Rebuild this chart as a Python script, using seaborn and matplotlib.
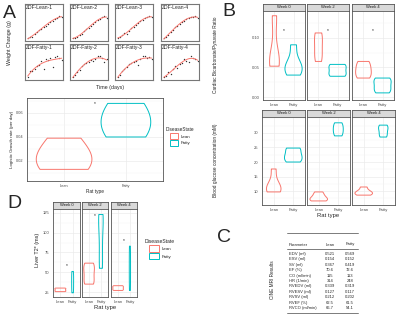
import matplotlib
matplotlib.use("Agg")
import matplotlib.pyplot as plt
import seaborn as sns
import pandas as pd
from matplotlib.patches import Patch
from matplotlib.lines import Line2D
from matplotlib.ticker import MultipleLocator, FormatStrFormatter, FixedLocator

# ---- data -----------------------------------------------------------------
# Panel A top: weight change (g) per rat over time
days = [0, 3, 6, 9, 12, 15, 18, 21, 24, 27, 30, 33, 36, 39, 42, 45]
rat_names = ["ZDF-Lean-1", "ZDF-Lean-2", "ZDF-Lean-3", "ZDF-Lean-4",
             "ZDF-Fatty-1", "ZDF-Fatty-2", "ZDF-Fatty-3", "ZDF-Fatty-4"]
lean_1 = [5, 10, 12, 25, 38, 50, 55, 62, 70, 80, 88, 95, 105, 110, 118, 112]
lean_2 = [0, 3, 8, 18, 22, 35, 45, 52, 60, 72, 80, 88, 95, 102, 108, 100]
lean_3 = [0, 8, 15, 25, 22, 38, 50, 58, 68, 75, 85, 92, 100, 105, 110, 104]
lean_4 = [0, 5, 15, 30, 42, 55, 62, 70, 80, 85, 92, 98, 102, 105, 108, 100]
fatty_1 = [0, 30, 28, 40, 55, 60, 75, 40, 85, 80, 90, 50, 95, 100, 92, 80]
fatty_2 = [0, 10, 20, 30, 45, 50, 55, 60, 65, 62, 70, 82, 80, 75, 60, 70]
fatty_3 = [0, 10, 25, 35, 45, 55, 60, 65, 70, 50, 75, 88, 90, 80, 85, 75]
fatty_4 = [0, 5, 15, 10, 25, 35, 30, 40, 45, 55, 50, 48, 65, 60, 55, 50]
weights = [lean_1, lean_2, lean_3, lean_4, fatty_1, fatty_2, fatty_3, fatty_4]

# Panel A bottom: logistic growth rate (per day)
growth_lean = [0.013, 0.015, 0.021, 0.029, 0.039]
growth_fatty = [0.040, 0.041, 0.052, 0.053, 0.066, 0.068]

weeks = ["Week 0", "Week 2", "Week 4"]
rat_types = ["Lean", "Fatty"]

# Panel B top: cardiac bicarbonate/pyruvate ratio
bicarb_lean = {"Week 0": [0.052, 0.054, 0.057, 0.062, 0.078, 0.132, 0.137],
               "Week 2": [0.060, 0.070, 0.085, 0.100, 0.108],
               "Week 4": [0.032, 0.040, 0.050, 0.060]}
bicarb_fatty = {"Week 0": [0.037, 0.045, 0.050, 0.060, 0.088],
                "Week 2": [0.035, 0.040, 0.050, 0.055],
                "Week 4": [0.007, 0.012, 0.020, 0.028, 0.032]}

# Panel B bottom: blood glucose (mM)
glucose_lean = {"Week 0": [9.7, 10.2, 11.0, 13.0, 17.6],
                "Week 2": [6.6, 7.0, 7.5, 8.5, 9.7],
                "Week 4": [8.6, 9.0, 9.5, 10.0, 11.4]}
glucose_fatty = {"Week 0": [20.0, 20.5, 22.0, 22.5, 24.5, 24.8],
                 "Week 2": [29.0, 30.5, 32.0, 33.5],
                 "Week 4": [28.6, 29.5, 31.0, 32.0, 32.7]}

# Panel D: liver T2* (ms)
t2_lean = {"Week 0": [25.5, 26.0, 27.0, 28.5, 29.5, 30.0],
           "Week 2": [35.0, 37.0, 45.0, 52.0, 58.0, 61.5],
           "Week 4": [27.0, 28.0, 30.0, 32.0, 33.0]}
t2_fatty = {"Week 0": [24.0, 30.0, 38.0, 45.0, 51.0],
            "Week 2": [55.0, 58.0, 80.0, 100.0, 118.0, 122.0, 123.0],
            "Week 4": [27.0, 40.0, 55.0, 70.0, 83.0]}

# significance markers (y positions)
star_bicarb = [0.112, 0.112, 0.112]
star_t2 = [58, 122, 90]
star_growth = 0.068

# axis ticks
bicarb_ticks = [0.00, 0.05, 0.10]
glucose_ticks = [10, 15, 20, 25, 30]
t2_ticks = [25, 50, 75, 100, 125]
growth_ticks = [0.02, 0.04, 0.06]

# Panel C: CINE MRI table
mri_params = ["EDV (ml)", "ESV (ml)", "SV (ml)", "EF (%)", "CO (ml/min)", "HR (1/min)",
              "RVEDV (ml)", "RVESV (ml)", "RVSV (ml)", "RVEF (%)", "RVCO (ml/min)"]
mri_lean = ["0.521", "0.154", "0.367", "70.6", "115", "314",
            "0.339", "0.127", "0.212", "62.5", "66.7"]
mri_fatty = ["0.569", "0.152", "0.419", "72.6", "113", "248",
             "0.319", "0.117", "0.202", "61.5", "54.1"]

# ---- styling ----------------------------------------------------------------
LEAN = "#F8766D"
FATTY = "#00BFC4"
pal = {"Lean": LEAN, "Fatty": FATTY}
W, H = 400, 318

sns.set_theme(style="white")
plt.rcParams["font.family"] = ["Liberation Sans", "DejaVu Sans"]

fig = plt.figure(figsize=(W / 100, H / 100), dpi=100)
fig.patch.set_facecolor("white")


def box(x0, y0, x1, y1):
    return [x0 / W, 1 - y1 / H, (x1 - x0) / W, (y1 - y0) / H]


def ftext(x, y, s, **kw):
    return fig.text(x / W, 1 - y / H, s, **kw)


def hline(x0, x1, y, lw=0.6, color="#666666"):
    fig.add_artist(Line2D([x0 / W, x1 / W], [1 - y / H, 1 - y / H], color=color, lw=lw))


def long_df(lean, fatty):
    rows = []
    for wk in weeks:
        rows += [(wk, "Lean", v) for v in lean[wk]]
        rows += [(wk, "Fatty", v) for v in fatty[wk]]
    return pd.DataFrame(rows, columns=["Week", "RatType", "value"])


def style_bw(ax, ticks, fmt, tsize):
    ax.set_xlim(-0.6, 1.6)
    step = ticks[1] - ticks[0]
    ax.yaxis.set_major_locator(FixedLocator(ticks))
    ax.yaxis.set_minor_locator(MultipleLocator(step / 2))
    ax.yaxis.set_major_formatter(FormatStrFormatter(fmt))
    ax.set_axisbelow(True)
    ax.grid(True, which="major", color="#EBEBEB", lw=0.5)
    ax.grid(True, which="minor", axis="y", color="#F4F4F4", lw=0.3)
    ax.tick_params(which="major", length=1.5, width=0.4, color="#333333",
                   labelsize=tsize, labelcolor="#4D4D4D", pad=1)
    ax.tick_params(which="minor", length=0)
    for sp in ax.spines.values():
        sp.set_color("#555555")
        sp.set_linewidth(0.6)
    ax.set_xlabel("")
    ax.set_ylabel("")


def violins(ax, df, bw=0.9):
    sns.violinplot(data=df, x="RatType", y="value", hue="RatType", order=rat_types,
                   hue_order=rat_types, palette=pal, fill=False, inner=None, cut=0,
                   width=0.9, linewidth=0.7, dodge=False, legend=False,
                   common_norm=True, bw_adjust=bw, ax=ax)


# ---- Panel A (top): weight trajectories ---------------------------------
col_x = [(25, 63), (70, 108), (115, 153), (161, 199)]
row_y = [(4, 41), (44, 80)]
for i, (name, vals) in enumerate(zip(rat_names, weights)):
    x0, x1 = col_x[i % 4]
    y0, y1 = row_y[i // 4]
    ax = fig.add_axes(box(x0, y0, x1, y1))
    sns.regplot(x=days, y=vals, order=3, ci=None, ax=ax,
                scatter_kws=dict(s=1.0, color="black", linewidths=0),
                line_kws=dict(color=LEAN, lw=0.7))
    lo, hi = min(vals), max(vals)
    tot = (hi - lo) / 0.6
    ax.set_ylim(lo - 0.07 * tot, hi + 0.33 * tot)
    ax.set_xlim(days[0] - 0.08 * 45, days[-1] + 0.04 * 45)
    ax.set_xticks([])
    ax.set_yticks([])
    ax.set_xlabel("")
    ax.set_ylabel("")
    ax.text(0.02, 0.97, name, transform=ax.transAxes, fontsize=3.6, va="top", ha="left")
    for sp in ax.spines.values():
        sp.set_color("#777777")
        sp.set_linewidth(0.8)

ftext(10, 43, "Weight Change (g)", rotation=90, ha="center", va="center", fontsize=3.8)
ftext(110, 88, "Time (days)", ha="center", va="center", fontsize=3.8)

# ---- Panel A (bottom): growth rate violins -------------------------------
growth_df = pd.DataFrame({
    "RatType": ["Lean"] * len(growth_lean) + ["Fatty"] * len(growth_fatty),
    "value": growth_lean + growth_fatty,
})
ax = fig.add_axes(box(27, 98, 163, 181))
violins(ax, growth_df, bw=1.6)
style_bw(ax, growth_ticks, "%.2f", 2.8)
ax.set_ylim(0.0033, 0.0725)
ax.text(0.5, star_growth, "*", ha="center", va="center", fontsize=3.5)
ftext(95, 191, "Rat type", ha="center", va="center", fontsize=3.4)
ftext(12, 139, "Logistic Growth rate (per day)", rotation=90, ha="center", va="center", fontsize=3.2)

handles = [Patch(facecolor="white", edgecolor=LEAN, lw=0.7, label="Lean"),
           Patch(facecolor="white", edgecolor=FATTY, lw=0.7, label="Fatty")]
fig.legend(handles=handles, title="DiseaseState", loc="upper left",
           bbox_to_anchor=(166 / W, 1 - 127 / H), frameon=False, fontsize=3.2,
           title_fontsize=3.4, handlelength=1.8, handleheight=1.5,
           borderaxespad=0, borderpad=0, labelspacing=0.3, handletextpad=0.5)


# ---- faceted panels -------------------------------------------------------
def faceted(df, xspans, strip_y, plot_y, ylim, ticks, fmt, stars=None, bw=0.9, tsize=3.0):
    for j, wk in enumerate(weeks):
        x0, x1 = xspans[j]
        sax = fig.add_axes(box(x0, strip_y[0], x1, strip_y[1]))
        sax.set_facecolor("#D9D9D9")
        sax.set_xticks([])
        sax.set_yticks([])
        sax.text(0.5, 0.5, wk, ha="center", va="center", fontsize=3.0, color="#1A1A1A",
                 transform=sax.transAxes)
        for sp in sax.spines.values():
            sp.set_color("#555555")
            sp.set_linewidth(0.6)
        ax = fig.add_axes(box(x0, plot_y[0], x1, plot_y[1]))
        violins(ax, df[df["Week"] == wk], bw=bw)
        style_bw(ax, ticks, fmt, tsize)
        ax.set_ylim(*ylim)
        if j > 0:
            ax.tick_params(axis="y", labelleft=False, length=0)
        if stars is not None:
            ax.text(0.5, stars[j], "*", ha="center", va="center", fontsize=3.5)


bicarb_df = long_df(bicarb_lean, bicarb_fatty)
faceted(bicarb_df, [(263, 305), (307, 349), (352, 394)], (4, 11), (11, 100),
        (-0.005, 0.145), bicarb_ticks, "%.2f", stars=star_bicarb)
ftext(216, 55, "Cardiac Bicarbonate/Pyruvate Ratio", rotation=90, ha="center",
      va="center", fontsize=3.4, color="#222222")

glucose_df = long_df(glucose_lean, glucose_fatty)
faceted(glucose_df, [(262, 305), (307, 350), (352, 395)], (110, 117), (117, 205),
        (5.2, 35.5), glucose_ticks, "%d")
ftext(216, 160, "Blood glucose concentration (mM)", rotation=90, ha="center",
      va="center", fontsize=3.4, color="#222222")
ftext(328, 216, "Rat type", ha="center", va="center", fontsize=4.2)

t2_df = long_df(t2_lean, t2_fatty)
faceted(t2_df, [(53, 80), (82, 108), (111, 137)], (202, 209), (209, 297),
        (18.7, 130), t2_ticks, "%d", stars=star_t2)
ftext(37, 250, "Liver T2* (ms)", rotation=90, ha="center", va="center", fontsize=4.0)
ftext(105, 308, "Rat type", ha="center", va="center", fontsize=4.2)
fig.legend(handles=handles, title="DiseaseState", loc="upper left",
           bbox_to_anchor=(145 / W, 1 - 239 / H), frameon=False, fontsize=3.2,
           title_fontsize=3.6, handlelength=2.2, handleheight=1.8,
           borderaxespad=0, borderpad=0, labelspacing=0.3, handletextpad=0.6)

# ---- Panel C: table ------------------------------------------------------
hline(287, 358, 232.5)
hline(287, 358, 249)
hline(287, 358, 313)
ftext(289, 244.5, "Parameter", ha="left", va="center", fontsize=3.0)
ftext(330, 244.5, "Lean", ha="center", va="center", fontsize=3.0)
ftext(350, 244.5, "Fatty", ha="center", va="center", fontsize=3.0)
for k, (p, a, b) in enumerate(zip(mri_params, mri_lean, mri_fatty)):
    y = 254 + k * 5.4
    ftext(289, y, p, ha="left", va="center", fontsize=3.0)
    ftext(330, y, a, ha="center", va="center", fontsize=3.0)
    ftext(350, y, b, ha="center", va="center", fontsize=3.0)
ftext(273, 280, "CINE MRI Results", rotation=90, ha="center", va="center", fontsize=3.4)

# ---- panel letters ---------------------------------------------------------
for letter, (x, y) in {"A": (9, 14), "B": (229, 12), "C": (224, 237), "D": (14, 203)}.items():
    ftext(x, y, letter, ha="center", va="center", fontsize=14)

fig.savefig("out.png", dpi=100)
